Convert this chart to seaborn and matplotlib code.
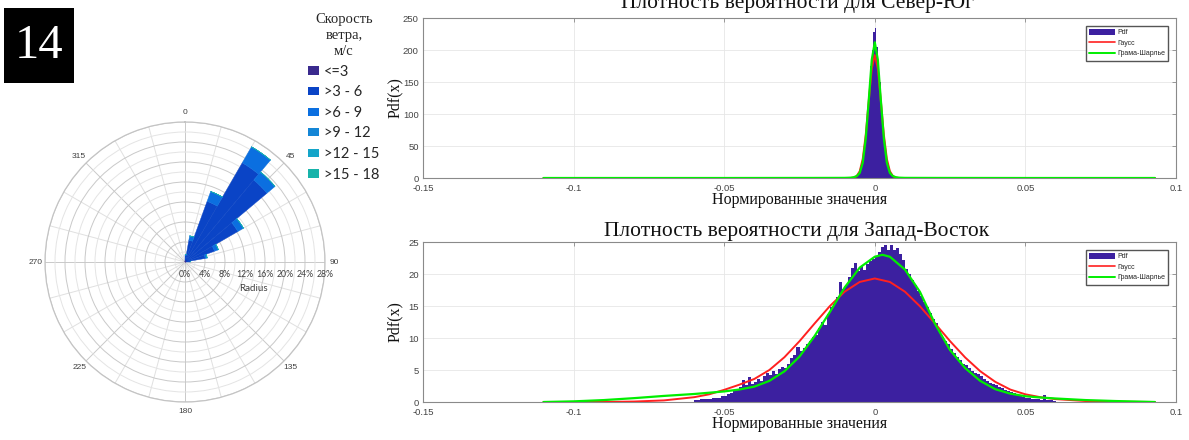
import numpy as np
import pandas as pd
import matplotlib
matplotlib.use("Agg")
import matplotlib.pyplot as plt
from matplotlib.patches import Patch, Rectangle
from matplotlib.lines import Line2D
import seaborn as sns

# ---------------- wind rose data (percent of time) ----------------
directions = [5, 15, 25, 35, 45, 55, 65, 75, 85]          # sector centres, deg
sector_width = 10
speed_classes = ["<=3", ">3 - 6", ">6 - 9", ">9 - 12", ">12 - 15", ">15 - 18"]
speed_le3 = [0.3, 0.4, 0.5, 0.5, 0.5, 0.4, 0.4, 0.3, 0.2]
speed_3_6 = [1.0, 4.0, 12.4, 22.4, 20.9, 11.8, 5.9, 3.8, 0.8]
speed_6_9 = [0.2, 0.9, 2.1, 3.7, 2.1, 1.3, 0.8, 0.4, 0.1]
speed_9_12 = [0, 0, 0, 0, 0, 0, 0, 0, 0]
speed_12_15 = [0, 0, 0, 0, 0, 0, 0, 0, 0]
speed_15_18 = [0, 0, 0, 0, 0, 0, 0, 0, 0]
class_colors = ["#3a2a8e", "#0a44c6", "#0b6fe0", "#1486d6", "#14a5c9", "#17b3aa"]
radial_ticks = [0, 4, 8, 12, 16, 20, 24, 28]

# ---------------- North-South pdf ----------------
ns_bin_start, ns_bin_width = -0.008, 0.0005
ns_hist = [0.5, 1, 2, 3, 5, 8, 13, 22, 36, 55, 80, 110, 145, 175, 200, 228,
           235, 205, 178, 150, 115, 85, 58, 38, 24, 14, 8, 5, 3, 2, 1, 0.5]
ns_gauss_x = [-0.11, -0.02, -0.009, -0.008, -0.007, -0.006, -0.005, -0.004, -0.003, -0.002,
              -0.001, 0.0, 0.001, 0.002, 0.003, 0.004, 0.005, 0.006, 0.007, 0.008, 0.009,
              0.02, 0.093]
ns_gauss_y = [0, 0, 0.05, 0.1, 0.6, 3.0, 10.7, 30, 68, 121, 171, 192, 171, 121, 68, 30,
              10.7, 3.0, 0.6, 0.1, 0.05, 0, 0]
ns_gc_x = [-0.11, -0.05, -0.02, -0.01, -0.008, -0.007, -0.006, -0.005, -0.004, -0.003,
           -0.002, -0.001, 0.0, 0.001, 0.002, 0.003, 0.004, 0.005, 0.006, 0.007, 0.008,
           0.01, 0.02, 0.05, 0.093]
ns_gc_y = [0, 0, 0.1, 0.2, 0.5, 1.2, 3, 8, 24, 62, 122, 185, 212, 185, 122, 62, 24, 8, 3,
           1.2, 0.5, 0.2, 0.1, 0, 0]

# ---------------- West-East pdf ----------------
we_bin_start, we_bin_width = -0.06, 0.001
we_hist = [0.3, 0.3, 0.4, 0.4, 0.5, 0.5, 0.6, 0.7, 0.7, 0.9,
           1.0, 1.2, 1.4, 1.7, 1.9, 2.4, 3.4, 2.6, 3.9, 2.8,
           3.1, 3.6, 3.3, 4.0, 4.6, 4.2, 4.8, 4.4, 5.1, 5.4,
           5.3, 5.9, 6.8, 7.4, 8.6, 7.9, 8.4, 9.0, 9.6, 10.1,
           10.4, 11.6, 12.5, 12.1, 13.8, 14.9, 15.3, 16.4, 18.7, 17.6,
           18.3, 19.6, 20.9, 21.7, 20.5, 21.3, 20.7, 21.6, 22.0, 22.3,
           22.8, 23.4, 24.2, 24.6, 23.7, 24.5, 23.8, 24.0, 23.1, 22.2,
           20.8, 20.0, 19.1, 18.3, 17.4, 16.6, 15.6, 14.8, 13.9, 12.9,
           12.3, 11.2, 10.2, 9.6, 9.0, 8.3, 7.6, 7.0, 6.5, 6.0,
           5.8, 5.3, 4.9, 4.6, 4.3, 4.0, 3.6, 3.3, 3.0, 2.8,
           2.7, 2.4, 2.2, 1.9, 1.7, 1.5, 1.4, 1.2, 1.0, 0.8,
           0.7, 0.6, 0.5, 0.45, 0.4, 0.35, 1.1, 0.3, 0.25, 0.2]
we_gauss_x = [-0.11, -0.09, -0.08, -0.07, -0.06, -0.055, -0.05, -0.045, -0.04, -0.035,
              -0.03, -0.025, -0.02, -0.015, -0.01, -0.005, 0.0, 0.005, 0.01, 0.015, 0.02,
              0.025, 0.03, 0.035, 0.04, 0.045, 0.05, 0.055, 0.06, 0.07, 0.08, 0.093]
we_gauss_y = [0, 0.01, 0.07, 0.25, 0.75, 1.2, 1.9, 2.7, 3.6, 5.0, 7.0, 9.5, 12.26, 14.95,
              17.24, 18.76, 19.3, 18.76, 17.24, 14.95, 12.26, 9.5, 6.96, 4.81, 3.15, 1.94,
              1.2, 0.75, 0.45, 0.15, 0.04, 0]
we_gc_x = [-0.11, -0.1, -0.09, -0.08, -0.07, -0.06, -0.055, -0.05, -0.045, -0.04, -0.035,
           -0.03, -0.025, -0.02, -0.015, -0.01, -0.005, 0.0, 0.0025, 0.005, 0.01, 0.015,
           0.02, 0.025, 0.03, 0.035, 0.04, 0.045, 0.05, 0.055, 0.06, 0.07, 0.08, 0.093]
we_gc_y = [0.0, 0.1, 0.3, 0.6, 0.95, 1.25, 1.45, 1.65, 1.95, 2.4, 3.3, 4.8, 7.1, 10.3,
           14.0, 17.9, 21.0, 22.7, 23.0, 22.7, 20.7, 17.2, 12.2, 8.1, 5.3, 3.3, 2.0, 1.3,
           0.9, 0.7, 0.55, 0.3, 0.15, 0.0]

x_ticks = [-0.15, -0.1, -0.05, 0, 0.05, 0.1]
x_tick_labels = ["-0.15", "-0.1", "-0.05", "0", "0.05", "0.1"]

# ---------------- styling ----------------
sns.set_theme(style="white")
plt.rcParams["font.family"] = ["Liberation Sans", "DejaVu Sans"]
SERIF = ["Liberation Serif", "DejaVu Serif"]
PURPLE = "#3c20a0"
RED = "#ff2020"
GREEN = "#00ee00"

W, H = 1189, 440
fig = plt.figure(figsize=(W / 100, H / 100), dpi=100)


def fx(px):
    return px / W


def fy(py):
    return 1 - py / H


# panel number badge
fig.patches.append(Rectangle((fx(4), fy(83)), fx(70), 75 / H, transform=fig.transFigure,
                             facecolor="black", edgecolor="none"))
fig.text(fx(39), fy(46), "14", color="white", fontsize=35, family=SERIF,
         ha="center", va="center")

# ---------------- wind rose ----------------
R = 140
pax = fig.add_axes([fx(185 - R), fy(262 + R), 2 * R / W, 2 * R / H], projection="polar")
pax.set_theta_zero_location("N")
pax.set_theta_direction(-1)
pax.set_ylim(0, 28)
pax.set_yticks(np.arange(2, 29, 2))
pax.set_yticklabels([])
pax.set_xticks(np.deg2rad(np.arange(0, 360, 15)))
pax.set_xticklabels([str(a) if a % 45 == 0 else "" for a in range(0, 360, 15)])
pax.tick_params(axis="x", labelsize=6, colors="#404040", pad=-6)
pax.grid(True, color="#dcdcdc", linewidth=0.7)
for i, gl in enumerate(pax.yaxis.get_gridlines()):
    gl.set_color("#c9c9c9" if i % 2 == 1 else "#e4e4e4")
for i, gl in enumerate(pax.xaxis.get_gridlines()):
    gl.set_color("#c9c9c9" if i % 3 == 0 else "#e0e0e0")
pax.spines["polar"].set_color("#c4c4c4")
pax.spines["polar"].set_linewidth(0.9)
pax.set_facecolor("white")

theta = np.deg2rad(directions)
bottom = np.zeros(len(directions))
for vals, col in zip([speed_le3, speed_3_6, speed_6_9, speed_9_12, speed_12_15, speed_15_18],
                     class_colors):
    vals = np.asarray(vals, dtype=float)
    pax.bar(theta, vals, width=np.deg2rad(sector_width), bottom=bottom, color=col,
            edgecolor=col, linewidth=0.3, zorder=3)
    bottom += vals

for r in radial_ticks:
    pax.annotate(f"{r}%", xy=(np.deg2rad(90), r), xytext=(0, -9), textcoords="offset points",
                 ha="center", va="center", fontsize=6.3, color="#404040",
                 family=["Lato", "DejaVu Sans"], annotation_clip=False)
pax.annotate("Radius", xy=(np.deg2rad(90), 13.6), xytext=(0, -19), textcoords="offset points",
             ha="center", va="center", fontsize=7, color="#404040",
             family=["Lato", "DejaVu Sans"], annotation_clip=False)

leg_handles = [Patch(facecolor=c, edgecolor="none") for c in class_colors]
wleg = fig.legend(leg_handles, speed_classes, title="Скорость\nветра,\nм/с",
                  loc="upper left", bbox_to_anchor=(fx(298), fy(3)), frameon=False,
                  prop={"family": ["Lato", "DejaVu Sans"], "size": 10.5},
                  title_fontproperties={"family": SERIF, "size": 10.5},
                  handlelength=0.75, handleheight=0.5, handletextpad=0.35,
                  labelspacing=0.45, borderpad=0.2)
wleg.get_title().set_multialignment("center")
wleg.get_title().set_linespacing(1.3)

# ---------------- probability density panels ----------------
def pdf_panel(top_px, bin_start, bin_width, hist, gx, gy, cx, cy, ymax, ystep, title,
              title_base_px):
    ax = fig.add_axes([fx(423), fy(top_px + 160), fx(753), 160 / H])
    edges = [bin_start + bin_width * i for i in range(len(hist) + 1)]
    centers = [0.5 * (edges[i] + edges[i + 1]) for i in range(len(hist))]
    df = pd.DataFrame({"x": centers, "pdf": hist})
    sns.histplot(data=df, x="x", weights="pdf", bins=edges, element="step", fill=True,
                 color=PURPLE, alpha=1.0, linewidth=0, ax=ax, zorder=2)
    sns.lineplot(x=gx, y=gy, color=RED, linewidth=1.4, ax=ax, zorder=3, sort=False)
    sns.lineplot(x=cx, y=cy, color=GREEN, linewidth=1.6, ax=ax, zorder=4, sort=False)
    ax.set_xlim(-0.15, 0.1)
    ax.set_ylim(0, ymax)
    ax.set_xticks(x_ticks)
    ax.set_xticklabels(x_tick_labels)
    yt = list(range(0, ymax + 1, ystep))
    ax.set_yticks(yt)
    ax.set_yticklabels([str(v) for v in yt])
    ax.grid(True, color="#e6e6e6", linewidth=0.6, zorder=0)
    ax.set_axisbelow(True)
    for sp in ax.spines.values():
        sp.set_color("#8a8a8a")
        sp.set_linewidth(0.8)
        sp.set_visible(True)
    ax.tick_params(direction="in", length=3, width=0.6, color="#8a8a8a", top=True,
                   right=True, labelsize=6.8, labelcolor="#444444")
    ax.tick_params(axis="x", pad=4)
    ax.tick_params(axis="y", pad=3)
    ax.set_xlabel("Нормированные значения", family=SERIF, fontsize=11.5, color="#111111")
    ax.xaxis.set_label_coords(0.5, -0.085)
    ax.set_ylabel("Pdf(x)", family=SERIF, fontsize=11.5, color="#111111")
    ax.yaxis.set_label_coords(-0.026, 0.5)
    handles = [Patch(facecolor=PURPLE, edgecolor="none"),
               Line2D([], [], color=RED, linewidth=1.2),
               Line2D([], [], color=GREEN, linewidth=1.4)]
    ax.legend(handles, ["Pdf", "Гаусс", "Грама-Шарлье"], loc="upper right",
              fontsize=5, frameon=True, fancybox=False, edgecolor="#555555",
              framealpha=1, handlelength=3.7, handleheight=1.0, labelspacing=0.45,
              handletextpad=0.3, borderpad=0.45, borderaxespad=1.1)
    fig.text(fx(797), fy(title_base_px), title, family=SERIF, fontsize=15.5,
             ha="center", va="baseline", color="#111111")
    return ax


pdf_panel(18, ns_bin_start, ns_bin_width, ns_hist, ns_gauss_x, ns_gauss_y, ns_gc_x, ns_gc_y,
          250, 50, "Плотность вероятности для Север-Юг", 8)
pdf_panel(242, we_bin_start, we_bin_width, we_hist, we_gauss_x, we_gauss_y, we_gc_x, we_gc_y,
          25, 5, "Плотность вероятности для Запад-Восток", 236)

fig.savefig("out.png", dpi=100, facecolor="white")
